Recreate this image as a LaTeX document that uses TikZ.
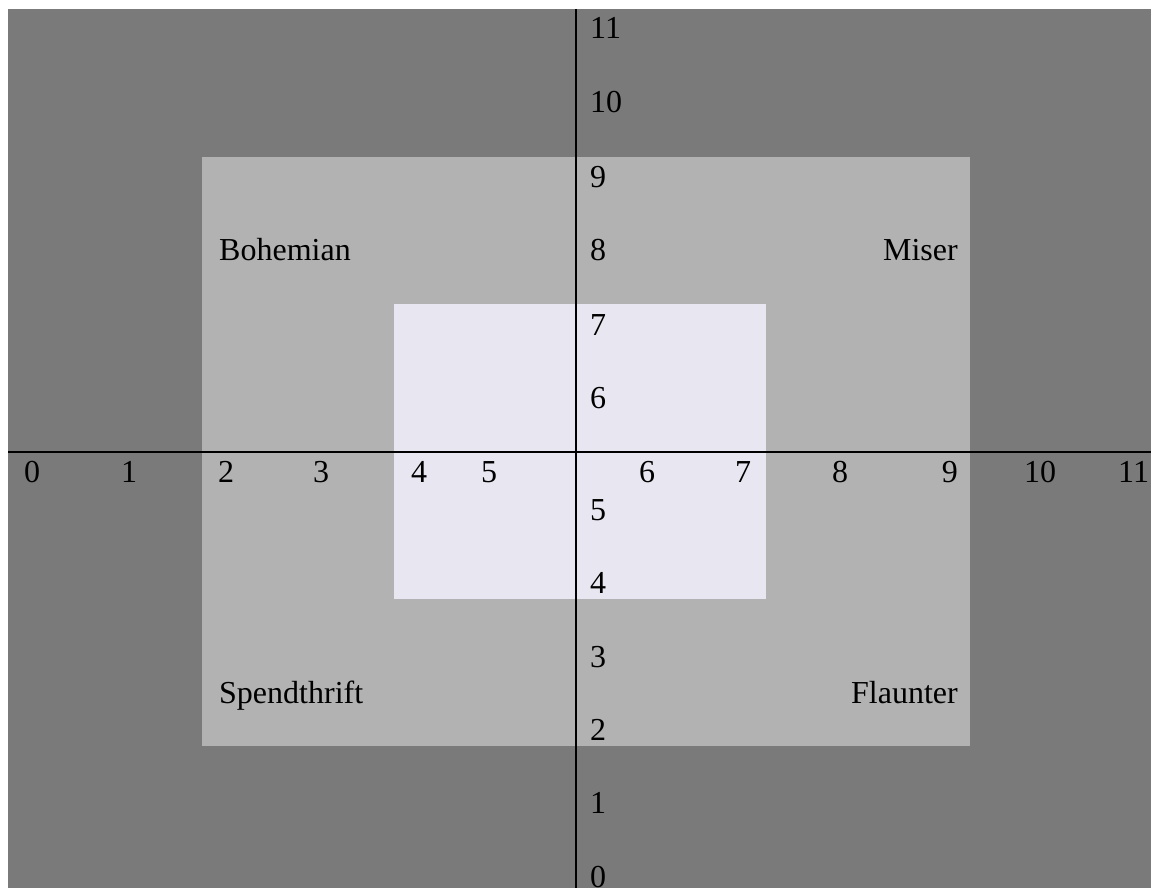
\documentclass[tikz,border=0pt]{standalone}
\usepackage{fontspec}
\setmainfont{Liberation Serif}
\definecolor{darkbg}{RGB}{122,122,122}
\definecolor{midbg}{RGB}{178,178,178}
\definecolor{innerbg}{RGB}{232,230,240}
\begin{document}
\begin{tikzpicture}[x=1pt,y=-1pt,
  lbl/.style={inner sep=0pt,font=\fontsize{32}{32}\selectfont},
  axisline/.style={line width=2pt,black}]
\useasboundingbox (0,0) rectangle (1151,888);
\fill[white] (0,0) rectangle (1151,888);
\fill[darkbg] (8,9) rectangle (1151,888);
\fill[midbg] (202,157) rectangle (970,746);
\fill[innerbg] (394,304) rectangle (766,599);
% axes
\coordinate (vt) at (576,9);
\coordinate (vb) at (576,888);
\coordinate (hl) at (8,452);
\coordinate (hr) at (1151,452);
\draw[axisline] (vt) -- (vb);
\draw[axisline] (hl) -- (hr);
% vertical axis labels
\node[lbl,anchor=base west] (y11) at (590,39) {11};
\node[lbl,anchor=base west] (y10) at (590,113) {10};
\node[lbl,anchor=base west] (y9) at (590,187) {9};
\node[lbl,anchor=base west] (y8) at (590,260) {8};
\node[lbl,anchor=base west] (y7) at (590,335) {7};
\node[lbl,anchor=base west] (y6) at (590,408) {6};
\node[lbl,anchor=base west] (y5) at (590,520) {5};
\node[lbl,anchor=base west] (y4) at (590,593) {4};
\node[lbl,anchor=base west] (y3) at (590,667) {3};
\node[lbl,anchor=base west] (y2) at (590,740) {2};
\node[lbl,anchor=base west] (y1) at (590,813) {1};
\node[lbl,anchor=base west] (y0) at (590,887) {0};
% horizontal axis labels
\node[lbl,anchor=base west] (x0) at (24,482) {0};
\node[lbl,anchor=base west] (x1) at (121,482) {1};
\node[lbl,anchor=base west] (x2) at (218,482) {2};
\node[lbl,anchor=base west] (x3) at (313,482) {3};
\node[lbl,anchor=base west] (x4) at (411,482) {4};
\node[lbl,anchor=base west] (x5) at (481,482) {5};
\node[lbl,anchor=base west] (x6) at (639,482) {6};
\node[lbl,anchor=base west] (x7) at (735,482) {7};
\node[lbl,anchor=base west] (x8) at (832,482) {8};
\node[lbl,anchor=base east] (x9) at (958,482) {9};
\node[lbl,anchor=base west] (x10) at (1024,482) {10};
\node[lbl,anchor=base west] (x11) at (1118,482) {11};
% quadrant labels
\node[lbl,anchor=base west] (boh) at (219,260) {Bohemian};
\node[lbl,anchor=base east] (mis) at (958,260) {Miser};
\node[lbl,anchor=base west] (spe) at (219,703) {Spendthrift};
\node[lbl,anchor=base east] (fla) at (958,703) {Flaunter};
\end{tikzpicture}
\end{document}
